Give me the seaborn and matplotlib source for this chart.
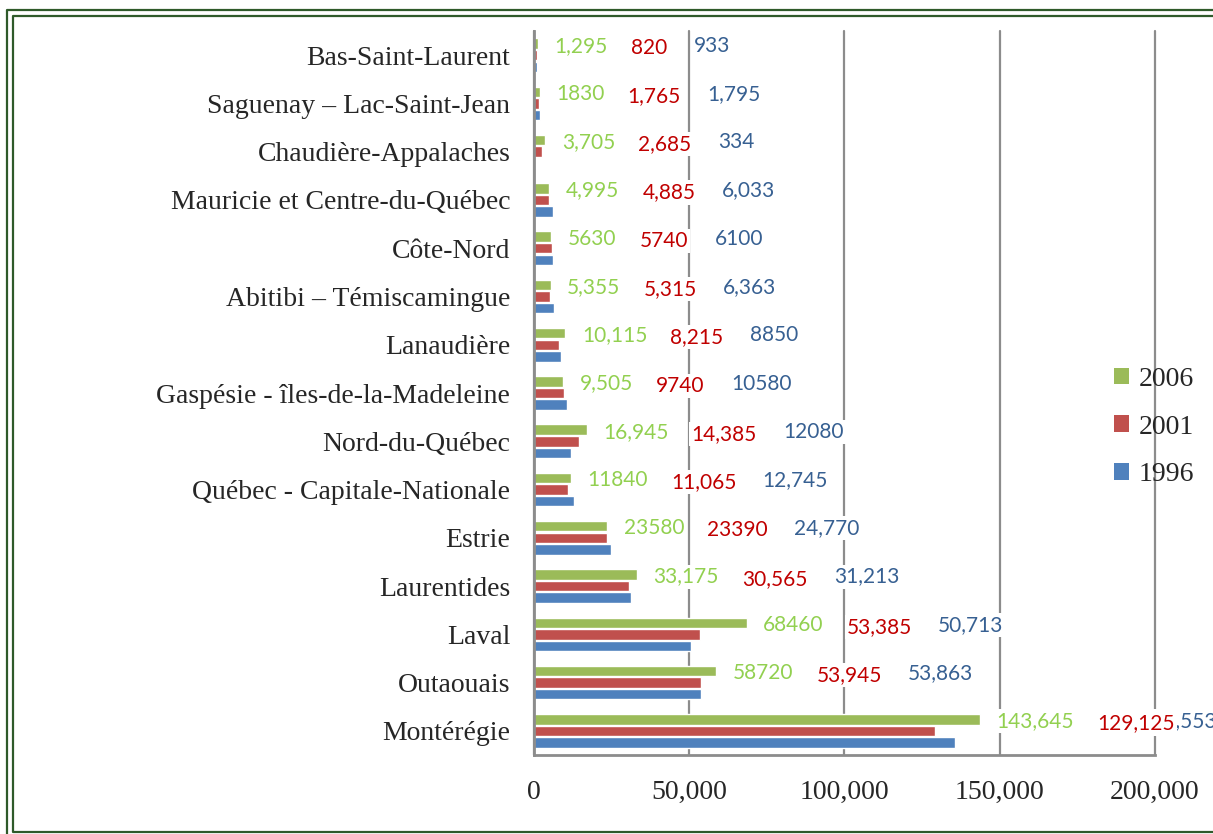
import numpy as np
import pandas as pd
import matplotlib
matplotlib.use("Agg")
import matplotlib.pyplot as plt
import seaborn as sns
from matplotlib.lines import Line2D
from matplotlib.patches import Patch

regions = ["Bas-Saint-Laurent", "Saguenay – Lac-Saint-Jean", "Chaudière-Appalaches",
           "Mauricie et Centre-du-Québec", "Côte-Nord", "Abitibi – Témiscamingue",
           "Lanaudière", "Gaspésie - îles-de-la-Madeleine", "Nord-du-Québec",
           "Québec - Capitale-Nationale", "Estrie", "Laurentides", "Laval",
           "Outaouais", "Montérégie"]
years = ["2006", "2001", "1996"]

v2006 = [1295, 1830, 3705, 4995, 5630, 5355, 10115, 9505, 16945, 11840,
         23580, 33175, 68460, 58720, 143645]
v2001 = [820, 1765, 2685, 4885, 5740, 5315, 8215, 9740, 14385, 11065,
         23390, 30565, 53385, 53945, 129125]
v1996 = [933, 1795, 334, 6033, 6100, 6363, 8850, 10580, 12080, 12745,
         24770, 31213, 50713, 53863, 135553]

# labels as they were typed in the original (mixed formatting)
lab2006 = ["1,295", "1830", "3,705", "4,995", "5630", "5,355", "10,115", "9,505",
           "16,945", "11840", "23580", "33,175", "68460", "58720", "143,645"]
lab2001 = ["820", "1,765", "2,685", "4,885", "5740", "5,315", "8,215", "9740",
           "14,385", "11,065", "23390", "30,565", "53,385", "53,945", "129,125"]
lab1996 = ["933", "1,795", "334", "6,033", "6100", "6,363", "8850", "10580",
           "12080", "12,745", "24,770", "31,213", "50,713", "53,863", "135,553"]

bar_colors = ["#9BBB59", "#C0504D", "#4F81BD"]
text_colors = ["#92D050", "#C00000", "#376092"]

df = pd.DataFrame({
    "region": regions * 3,
    "year": [years[0]] * 15 + [years[1]] * 15 + [years[2]] * 15,
    "value": v2006 + v2001 + v1996,
})

sns.set_style("white")
serif = "Liberation Serif"
label_font = "Lato"

fig = plt.figure(figsize=(12.13, 8.34), dpi=100)
ax = fig.add_axes([0.4402, 0.0947, 0.5120, 0.8681])

sns.barplot(data=df, y="region", x="value", hue="year", hue_order=years,
            palette=bar_colors, orient="h", width=0.72, gap=0.1,
            saturation=1, errorbar=None, legend=False, ax=ax)

ax.set_xlim(0, 200000)
ax.set_xticks([0, 50000, 100000, 150000, 200000])
ax.set_xticklabels(["0", "50,000", "100,000", "150,000", "200,000"],
                   fontfamily=serif, fontsize=20)
ax.set_yticks(range(len(regions)))
ax.set_yticklabels(regions, fontfamily=serif, fontsize=20)
ax.set_xlabel("")
ax.set_ylabel("")

grey = "#8C8C8C"
ax.set_axisbelow(True)
ax.xaxis.grid(True, color=grey, lw=1.6)
for gl in ax.get_xgridlines():
    gl.set_clip_on(False)
ax.yaxis.grid(False)
for s in ["top", "right"]:
    ax.spines[s].set_visible(False)
for s in ["left", "bottom"]:
    ax.spines[s].set_color(grey)
    ax.spines[s].set_linewidth(2)

ax.tick_params(axis="x", direction="out", length=8, width=2, color=grey, pad=10)
ax.tick_params(axis="y", which="major", length=0, pad=17)
ax.set_yticks(np.arange(-0.5, len(regions), 1), minor=True)
ax.tick_params(axis="y", which="minor", direction="out", length=7, width=2, color=grey)
ax.set_ylim(len(regions) - 0.5, -0.5)

# data labels: green next to its bar, red after green, blue after red
box = dict(fc="white", ec="none", pad=1.5)
blue_texts = []
for i in range(len(regions)):
    gbar = ax.containers[0][i]
    yc = gbar.get_y() + gbar.get_height() / 2
    g = ax.annotate(lab2006[i], xy=(gbar.get_width(), yc), xytext=(12, -1.5),
                    textcoords="offset points", ha="left", va="center",
                    color=text_colors[0], fontsize=15, fontfamily=label_font,
                    bbox=box, zorder=5)
    r = ax.annotate(lab2001[i], xy=(1, 0.5), xycoords=g, xytext=(16.5, -1.5),
                    textcoords="offset points", ha="left", va="center",
                    color=text_colors[1], fontsize=15, fontfamily=label_font,
                    bbox=box, zorder=5)
    b = ax.annotate(lab1996[i], xy=(1, 0.5), xycoords=r, xytext=(19, 1.5),
                    textcoords="offset points", ha="left", va="center",
                    color=text_colors[2], fontsize=15, fontfamily=label_font,
                    bbox=box, zorder=4, annotation_clip=False)
    blue_texts.append(b)

# keep blue labels inside the chart area (like Excel does)
fig.canvas.draw()
renderer = fig.canvas.get_renderer()
limit = 1217
for b in blue_texts:
    ext = b.get_window_extent(renderer)
    if ext.x1 > limit:
        dx = (ext.x1 - limit) * 72 / fig.dpi
        b.xyann = (b.xyann[0] - dx, b.xyann[1])

handles = [Patch(facecolor=c, edgecolor="none") for c in bar_colors]
fig.legend(handles, years, loc="center left", bbox_to_anchor=(1114 / 1213, 0.488),
           frameon=False, prop={"family": serif, "size": 20},
           handlelength=0.55, handleheight=0.55, handletextpad=0.35,
           labelspacing=0.82, borderpad=0, borderaxespad=0)

# double green frame
frame = "#2F5A2A"
W, H = 1213, 834
fig.add_artist(Line2D([1.02, 7 / W, 7 / W], [1 - 10 / H, 1 - 10 / H, -0.02],
                      color=frame, lw=1.6, transform=fig.transFigure))
fig.add_artist(Line2D([1.02, 13 / W, 13 / W, 1.02],
                      [1 - 16 / H, 1 - 16 / H, 1 - 832 / H, 1 - 832 / H],
                      color=frame, lw=1.6, transform=fig.transFigure))

fig.savefig("out.png", dpi=100)
